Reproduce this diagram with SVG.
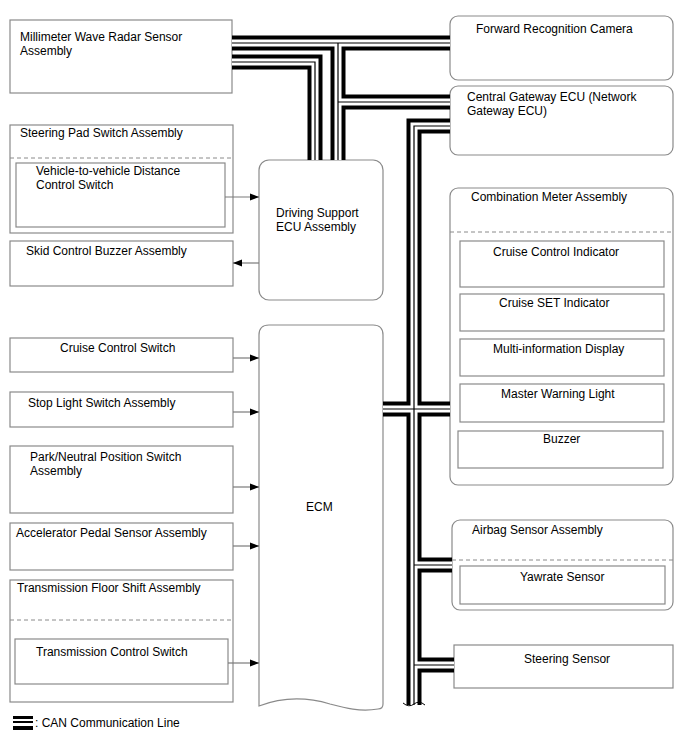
<svg xmlns="http://www.w3.org/2000/svg" xmlns:xlink="http://www.w3.org/1999/xlink" width="688" height="755" viewBox="0 0 688 755">
<style>
text{font-family:"Liberation Sans",Arial,sans-serif;font-size:12px;fill:#000}
.box{fill:#fff;stroke:#8a8a8a;stroke-width:1.2}
.dash{stroke:#8a8a8a;stroke-width:1;stroke-dasharray:4,3;fill:none}
.arr{stroke:#7a7a7a;stroke-width:1.2;fill:none;marker-end:url(#ah)}
.bk{fill:none;stroke:#000;stroke-width:15;stroke-linejoin:miter;stroke-linecap:butt}
.wh{fill:none;stroke:#fff;stroke-width:7;stroke-linejoin:miter;stroke-linecap:butt}
.th{fill:none;stroke:#000;stroke-width:1.2;stroke-linejoin:miter;stroke-linecap:butt}
</style>
<defs>
<marker id="ah" markerWidth="10" markerHeight="8" refX="9" refY="4" orient="auto" markerUnits="userSpaceOnUse">
<path d="M0,0.5 L9,4 L0,7.5 Z" fill="#000"/>
</marker>
<path id="busA" d="M232,43 H450 M338,43 V160 M338,102 H450"/>
<path id="busB" d="M232,62 H315 V160"/>
<path id="busC" d="M450,126 H414 V705 M383,409 H450 M414,565 H452 M414,665 H454"/>
</defs>

<g id="mmwave"><rect class="box" x="10" y="20" width="222" height="73"/><text x="20" y="41">Millimeter Wave Radar Sensor</text><text x="20" y="55">Assembly</text></g>
<g id="steeringpad"><rect class="box" x="10" y="125" width="223" height="108"/><text x="20" y="137">Steering Pad Switch Assembly</text><line class="dash" x1="10" y1="158" x2="233" y2="158"/>
<g id="distswitch"><rect class="box" x="16" y="163" width="209" height="64"/><text x="36" y="175">Vehicle-to-vehicle Distance</text><text x="36" y="189">Control Switch</text></g></g>
<g id="skidbuzzer"><rect class="box" x="10" y="241" width="223" height="45"/><text x="26" y="255">Skid Control Buzzer Assembly</text></g>
<g id="dsecu"><rect class="box" x="259" y="160" width="124" height="140" rx="10" ry="10"/><text x="276" y="217">Driving Support</text><text x="276" y="231">ECU Assembly</text></g>
<g id="ecm"><path class="box" d="M259,335 Q259,325 269,325 L373,325 Q383,325 383,335 L383,704 Q383,709 378,709 C360,712 345,708 330,704 C310,698 285,696 259,706 Z"/><text x="306" y="511">ECM</text></g>
<g id="cruisesw"><rect class="box" x="10" y="338" width="223" height="34"/><text x="60" y="352">Cruise Control Switch</text></g>
<g id="stoplight"><rect class="box" x="10" y="392" width="223" height="35"/><text x="28" y="407">Stop Light Switch Assembly</text></g>
<g id="parkneutral"><rect class="box" x="10" y="446" width="223" height="67"/><text x="30" y="461">Park/Neutral Position Switch</text><text x="30" y="475">Assembly</text></g>
<g id="accel"><rect class="box" x="10" y="523" width="223" height="47"/><text x="16" y="537">Accelerator Pedal Sensor Assembly</text></g>
<g id="transfloor"><rect class="box" x="10" y="580" width="223" height="122"/><text x="17" y="592">Transmission Floor Shift Assembly</text><line class="dash" x1="10" y1="620" x2="233" y2="620"/>
<g id="transctrl"><rect class="box" x="15" y="639" width="213" height="45"/><text x="36" y="656">Transmission Control Switch</text></g></g>

<g id="camera"><rect class="box" x="450" y="16" width="223" height="64" rx="8" ry="8"/><text x="476" y="33">Forward Recognition Camera</text></g>
<g id="gateway"><rect class="box" x="450" y="86" width="223" height="69" rx="8" ry="8"/><text x="467" y="101">Central Gateway ECU (Network</text><text x="467" y="115">Gateway ECU)</text></g>
<g id="combmeter"><rect class="box" x="450" y="188" width="223" height="297" rx="8" ry="8"/><text x="471" y="201">Combination Meter Assembly</text><line class="dash" x1="450" y1="232" x2="673" y2="232"/>
<g id="cruiseind"><rect class="box" x="460" y="241" width="204" height="46"/><text x="493" y="256">Cruise Control Indicator</text></g>
<g id="setind"><rect class="box" x="460" y="294" width="204" height="37"/><text x="499" y="307">Cruise SET Indicator</text></g>
<g id="mid"><rect class="box" x="460" y="339" width="204" height="37"/><text x="493" y="353">Multi-information Display</text></g>
<g id="mwl"><rect class="box" x="460" y="384" width="204" height="38"/><text x="501" y="398">Master Warning Light</text></g>
<g id="buzzer"><rect class="box" x="458" y="431" width="205" height="37"/><text x="543" y="443">Buzzer</text></g></g>
<g id="airbag"><rect class="box" x="452" y="520" width="221" height="90" rx="8" ry="8"/><text x="472" y="534">Airbag Sensor Assembly</text><line class="dash" x1="452" y1="560" x2="673" y2="560"/>
<g id="yawrate"><rect class="box" x="460" y="566" width="205" height="38"/><text x="520" y="581">Yawrate Sensor</text></g></g>
<g id="steersensor"><rect class="box" x="454" y="645" width="219" height="43"/><text x="524" y="663">Steering Sensor</text></g>

<g id="connectors">
<use xlink:href="#busA" class="bk"/><use xlink:href="#busB" class="bk"/><use xlink:href="#busC" class="bk"/>
<use xlink:href="#busA" class="wh"/><use xlink:href="#busB" class="wh"/><use xlink:href="#busC" class="wh"/>
<use xlink:href="#busA" class="th"/><use xlink:href="#busB" class="th"/><use xlink:href="#busC" class="th"/>
<path d="M403,703 Q409,708 414,704 Q419,700 425,705" fill="none" stroke="#000" stroke-width="1"/>
<line class="arr" x1="225" y1="197" x2="259" y2="197"/>
<line class="arr" x1="259" y1="263" x2="233" y2="263"/>
<line class="arr" x1="233" y1="358" x2="259" y2="358"/>
<line class="arr" x1="233" y1="412" x2="259" y2="412"/>
<line class="arr" x1="233" y1="487" x2="259" y2="487"/>
<line class="arr" x1="233" y1="546" x2="259" y2="546"/>
<line class="arr" x1="228" y1="663" x2="259" y2="663"/>
</g>

<g id="legend"><rect x="13" y="716" width="20" height="3" fill="#000"/><rect x="13" y="721" width="20" height="2" fill="#000"/><rect x="13" y="726" width="20" height="4" fill="#000"/><text x="35" y="727">: CAN Communication Line</text></g>
</svg>
